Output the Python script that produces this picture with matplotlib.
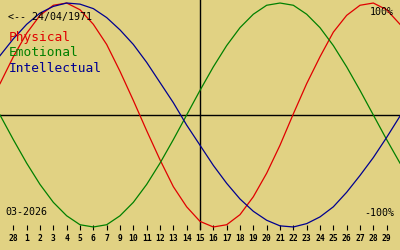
import matplotlib
matplotlib.use('Agg')
import matplotlib.pyplot as plt

# day positions along the chart (0 = left edge, 30 = right edge)
days = list(range(31))
# biorhythm values in percent at each day position
physical = [28, 52, 73, 89, 98, 100, 94, 81, 63, 39, 13, -14, -40, -64, -82, -95,
            -100, -98, -89, -73, -52, -27, 1, 28, 52, 74, 89, 98, 100, 94, 81]
emotional = [0, -22, -43, -62, -78, -90, -98, -100, -98, -90, -78, -62, -43, -22, 0, 22,
             43, 62, 78, 90, 98, 100, 98, 90, 78, 62, 43, 22, 0, -22, -43]
intellectual = [53, 68, 81, 91, 97, 100, 99, 95, 87, 76, 63, 47, 29, 11, -9, -27,
                -45, -61, -75, -86, -94, -99, -100, -97, -91, -82, -69, -54, -38, -20, -1]

tick_pos = list(range(1, 30))
tick_labels = ['28', '1', '2', '3', '4', '5', '6', '7', '9', '10', '11', '12', '13', '14',
               '15', '16', '17', '18', '19', '20', '21', '22', '23', '24', '25', '26',
               '27', '28', '29']

bg = '#e1d283'
col_phys = '#e00000'
col_emo = '#008000'
col_int = '#000090'
mono = 'DejaVu Sans Mono'

fig = plt.figure(figsize=(4, 2.5), dpi=100, facecolor=bg)
ax = fig.add_axes([0, 20 / 250, 1, 230 / 250])
ax.set_facecolor(bg)
ax.set_xlim(0, 30)
ax.set_ylim(-102.7, 102.7)

ax.axhline(0, color='black', lw=1.0)
ax.axvline(15, color='black', lw=1.0)

ax.plot(days, physical, color=col_phys, lw=0.9)
ax.plot(days, emotional, color=col_emo, lw=0.9)
ax.plot(days, intellectual, color=col_int, lw=0.9)

for s in ax.spines.values():
    s.set_visible(False)
ax.set_yticks([])
ax.set_xticks(tick_pos)
ax.set_xticklabels(tick_labels, fontfamily=mono, fontsize=5.8, fontweight='bold')
ax.tick_params(axis='x', direction='in', length=3.6, width=0.8, color='black', pad=3)


def px_text(x, y, s, color='black', size=7, ha='left'):
    fig.text(x / 400, 1 - y / 250, s, color=color, fontsize=size, ha=ha, va='center',
             fontfamily=mono)


px_text(8, 17, '<-- 24/04/1971', size=7.2)
px_text(9, 38, 'Physical', color=col_phys, size=9.3)
px_text(9, 53, 'Emotional', color=col_emo, size=9.3)
px_text(9, 68, 'Intellectual', color=col_int, size=9.3)
px_text(394, 12, '100%', size=7.2, ha='right')
px_text(394, 213, '-100%', size=7.2, ha='right')
px_text(5, 212, '03-2026', size=7.2)

fig.savefig('out.png', dpi=100, facecolor=bg)
